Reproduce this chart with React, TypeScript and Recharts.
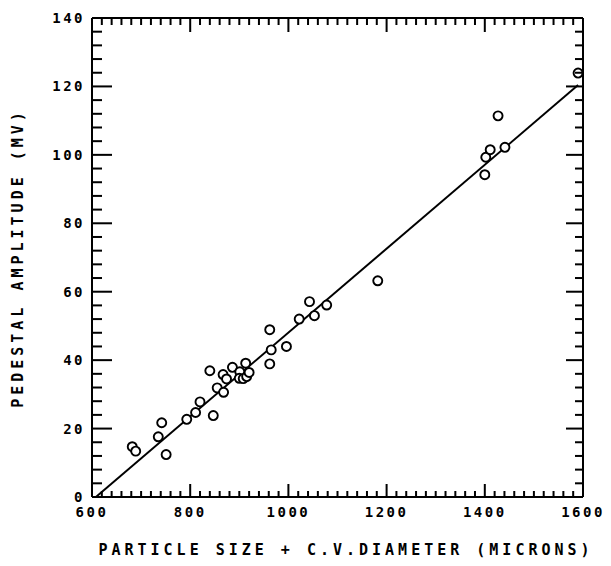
import { ScatterChart, Scatter, XAxis, YAxis, ZAxis } from 'recharts';

// particle size (microns) vs pedestal amplitude (mV)
const particleSize = [682, 689, 735, 742, 751, 793, 811, 820, 847, 840, 855, 868, 867, 874, 886, 901, 900, 908, 915, 920, 913, 962, 965, 962, 996, 1022, 1043, 1053, 1078, 1182, 1400, 1402, 1411, 1427, 1441, 1590];
const amplitude = [14.7, 13.4, 17.6, 21.7, 12.4, 22.7, 24.7, 27.8, 23.8, 36.9, 31.9, 30.6, 35.8, 34.5, 37.9, 36.6, 34.7, 34.6, 35.2, 36.4, 39.1, 48.9, 43, 38.9, 44, 52, 57.1, 53, 56.1, 63.2, 94.2, 99.3, 101.5, 111.4, 102.2, 123.9];

// least squares fit line end points
const fitX = [608, 1590];
const fitY = [0, 120.4];

const xMajor = [600, 800, 1000, 1200, 1400, 1600];
const yMajor = [0, 20, 40, 60, 80, 100, 120, 140];
const xStep = 20;
const yStep = 4;

const xTicks: number[] = [];
for (let v = 600; v <= 1600; v += xStep) xTicks.push(v);
const yTicks: number[] = [];
for (let v = 0; v <= 140; v += yStep) yTicks.push(v);

const points = particleSize.map((x, i) => ({ x, y: amplitude[i] }));
const fit = fitX.map((x, i) => ({ x, y: fitY[i] }));

const W = 600;
const H = 540;
const M = { top: 9, right: 24, bottom: 11, left: 24 };
const LEFT_W = 60;
const BOTTOM_H = 40;
// plot box size, so the bottom/left ticks can also mark the top/right frame
const PLOT_W = W - M.left - M.right - LEFT_W - 1;
const PLOT_H = H - M.top - M.bottom - BOTTOM_H - 1;

const FONT = 'DejaVu Sans Mono, monospace';

const BottomTick = (props: any) => {
  const { x, y, payload } = props;
  const major = xMajor.includes(payload.value);
  const lb = major ? 13 : 6;
  const lt = major ? 14 : 7;
  return (
    <g>
      <rect x={x - 1} y={y - lb} width={2} height={lb} fill="#000" />
      <rect x={x - 1} y={y - PLOT_H} width={2} height={lt} fill="#000" />
      {major && (
        <text x={x} y={y + 20} textAnchor="middle" fill="#000" fontFamily={FONT} fontSize={14} fontWeight={700} letterSpacing={2.5}>
          {payload.value}
        </text>
      )}
    </g>
  );
};

const LeftTick = (props: any) => {
  const { x, y, payload } = props;
  const major = yMajor.includes(payload.value);
  const ll = major ? 20 : 10;
  const lr = major ? 17 : 8;
  return (
    <g>
      <rect x={x} y={y - 1} width={ll} height={2} fill="#000" />
      <rect x={x + PLOT_W - lr} y={y - 1} width={lr} height={2} fill="#000" />
      {major && (
        <text x={x - 7} y={y + 5} textAnchor="end" fill="#000" fontFamily={FONT} fontSize={14} fontWeight={700} letterSpacing={2.5}>
          {payload.value}
        </text>
      )}
    </g>
  );
};

const titleStyle: React.CSSProperties = {
  position: 'absolute',
  fontFamily: FONT,
  fontSize: 15,
  fontWeight: 700,
  letterSpacing: 4,
  lineHeight: '18px',
  color: '#000',
  whiteSpace: 'nowrap',
};

export default function App() {
  return (
    <div style={{ position: 'relative', width: 600, height: 556 }}>
      <ScatterChart width={W} height={H} margin={M}>
        <ZAxis range={[45, 45]} />
        <XAxis
          xAxisId="b"
          type="number"
          dataKey="x"
          domain={[600, 1600]}
          ticks={xTicks}
          interval={0}
          height={BOTTOM_H}
          tickSize={0}
          tickMargin={0}
          tick={<BottomTick />}
          axisLine={{ stroke: '#000', strokeWidth: 2 }}
        />
        <XAxis
          xAxisId="t"
          orientation="top"
          type="number"
          dataKey="x"
          domain={[600, 1600]}
          height={1}
          tick={false}
          tickLine={false}
          axisLine={{ stroke: '#000', strokeWidth: 2 }}
        />
        <YAxis
          yAxisId="l"
          type="number"
          dataKey="y"
          domain={[0, 140]}
          ticks={yTicks}
          interval={0}
          width={LEFT_W}
          tickSize={0}
          tickMargin={0}
          tick={<LeftTick />}
          axisLine={{ stroke: '#000', strokeWidth: 2 }}
        />
        <YAxis
          yAxisId="r"
          orientation="right"
          type="number"
          dataKey="y"
          domain={[0, 140]}
          width={1}
          tick={false}
          tickLine={false}
          axisLine={{ stroke: '#000', strokeWidth: 2 }}
        />
        <Scatter
          data={fit}
          xAxisId="t"
          yAxisId="r"
          line={{ stroke: '#000', strokeWidth: 2 }}
          lineType="joint"
          shape={() => <g />}
          isAnimationActive={false}
        />
        <Scatter data={points} xAxisId="b" yAxisId="l" fill="#fff" stroke="#000" strokeWidth={1.9} isAnimationActive={false} />
      </ScatterChart>
      <div style={{ ...titleStyle, left: 338, top: 533, transform: 'translateX(-50%)' }}>
        PARTICLE SIZE + C.V.DIAMETER (MICRONS)
      </div>
      <div style={{ ...titleStyle, left: 10, top: 250, transform: 'translate(-50%, -50%) rotate(-90deg)' }}>
        PEDESTAL AMPLITUDE (MV)
      </div>
    </div>
  );
}
